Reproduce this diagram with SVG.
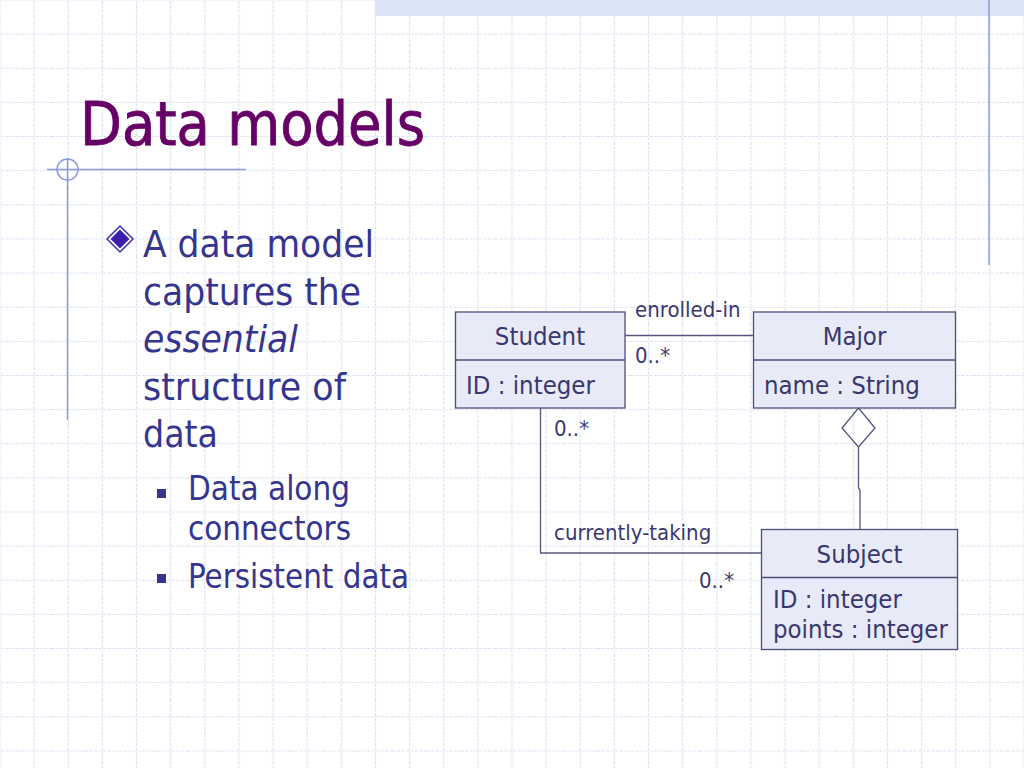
<svg xmlns="http://www.w3.org/2000/svg" width="1024" height="768" viewBox="0 0 1024 768">
  <style>
    .f { font-family: "DejaVu Sans", "Liberation Sans", sans-serif; font-stretch: condensed; }
    .title { font-size: 60px; fill: #660066; stroke: #660066; stroke-width: 0.8; }
    .body { font-size: 38px; fill: #35358f; }
    .sub { font-size: 33px; fill: #35358f; }
    .cls { font-size: 25.5px; fill: #38386e; }
    .lbl { font-size: 22px; fill: #38386e; }
    .box { fill: #e8eaf8; stroke: #4d4d7a; stroke-width: 1.3; }
    .div { stroke: #4d4d7a; stroke-width: 1.3; }
    .conn { fill: none; stroke: #55557f; stroke-width: 1.3; }
    .deco { stroke: #8c9ae0; stroke-width: 1.5; fill: none; }
  </style>
  <defs>
    <pattern id="grid" patternUnits="userSpaceOnUse" x="-17.0667" y="-17.0667" width="34.1333" height="34.1333">
      <path d="M17.0667 0 V34.1333 M0 17.0667 H34.1333" stroke="#dcdff2" stroke-width="1.2" stroke-dasharray="3 1.5" fill="none"/>
    </pattern>
  </defs>

  <g id="background">
    <rect x="0" y="0" width="1024" height="768" fill="#ffffff"/>
    <rect x="0" y="0" width="1024" height="768" fill="url(#grid)"/>
    <rect x="375" y="0" width="649" height="16" fill="#dce4f7"/>
    <line class="deco" x1="989" y1="0" x2="989" y2="265"/>
    <line class="deco" x1="47" y1="169.5" x2="246" y2="169.5"/>
    <line class="deco" x1="67.5" y1="158" x2="67.5" y2="420"/>
    <circle class="deco" cx="67.5" cy="169.5" r="10.5"/>
  </g>

  <g id="title">
    <text class="f title" x="80" y="145" textLength="345" lengthAdjust="spacingAndGlyphs">Data models</text>
  </g>

  <g id="bullets">
    <polygon points="120,226 133,239 120,252 107,239" fill="#ffffff" stroke="#3333aa" stroke-width="1.5"/>
    <polygon points="120,229.5 129.5,239 120,248.5 110.5,239" fill="#3d1fae"/>
    <text class="f body" x="143" y="257" textLength="231" lengthAdjust="spacingAndGlyphs">A data model</text>
    <text class="f body" x="143" y="305" textLength="218" lengthAdjust="spacingAndGlyphs">captures the</text>
    <text class="f body" x="143" y="352" font-style="italic" textLength="155" lengthAdjust="spacingAndGlyphs">essential</text>
    <text class="f body" x="143" y="400" textLength="203" lengthAdjust="spacingAndGlyphs">structure of</text>
    <text class="f body" x="143" y="447" textLength="75" lengthAdjust="spacingAndGlyphs">data</text>
    <rect x="157" y="489" width="9" height="9" fill="#35358f"/>
    <text class="f sub" x="188" y="500" textLength="162" lengthAdjust="spacingAndGlyphs">Data along</text>
    <text class="f sub" x="188" y="540" textLength="163" lengthAdjust="spacingAndGlyphs">connectors</text>
    <rect x="157" y="574" width="9" height="9" fill="#35358f"/>
    <text class="f sub" x="188" y="588" textLength="221" lengthAdjust="spacingAndGlyphs">Persistent data</text>
  </g>

  <g id="connectors">
    <line class="conn" x1="625" y1="335.5" x2="753.5" y2="335.5"/>
    <polyline class="conn" points="540.5,408 540.5,553 761.5,553"/>
    <polygon class="conn" points="858.5,408 875,428 858.5,447 842,428" fill="#ffffff"/>
    <polyline class="conn" points="858.5,447 858.5,488 860,490 860,529"/>
    <text class="f lbl" x="635" y="317">enrolled-in</text>
    <text class="f lbl" x="635" y="363">0..*</text>
    <text class="f lbl" x="554" y="436">0..*</text>
    <text class="f lbl" x="554" y="540">currently-taking</text>
    <text class="f lbl" x="699" y="588">0..*</text>
  </g>

  <g id="Student">
    <rect class="box" x="455.5" y="312" width="169.5" height="96"/>
    <line class="div" x1="455.5" y1="360" x2="625" y2="360"/>
    <text class="f cls" x="540" y="345" text-anchor="middle">Student</text>
    <text class="f cls" x="466" y="394">ID : integer</text>
  </g>

  <g id="Major">
    <rect class="box" x="753.5" y="312" width="202" height="96"/>
    <line class="div" x1="753.5" y1="360" x2="955.5" y2="360"/>
    <text class="f cls" x="854.5" y="345" text-anchor="middle">Major</text>
    <text class="f cls" x="764" y="394">name : String</text>
  </g>

  <g id="Subject">
    <rect class="box" x="761.5" y="529.5" width="196" height="120"/>
    <line class="div" x1="761.5" y1="577.5" x2="957.5" y2="577.5"/>
    <text class="f cls" x="859.5" y="563" text-anchor="middle">Subject</text>
    <text class="f cls" x="773" y="608">ID : integer</text>
    <text class="f cls" x="773" y="638">points : integer</text>
  </g>
</svg>
